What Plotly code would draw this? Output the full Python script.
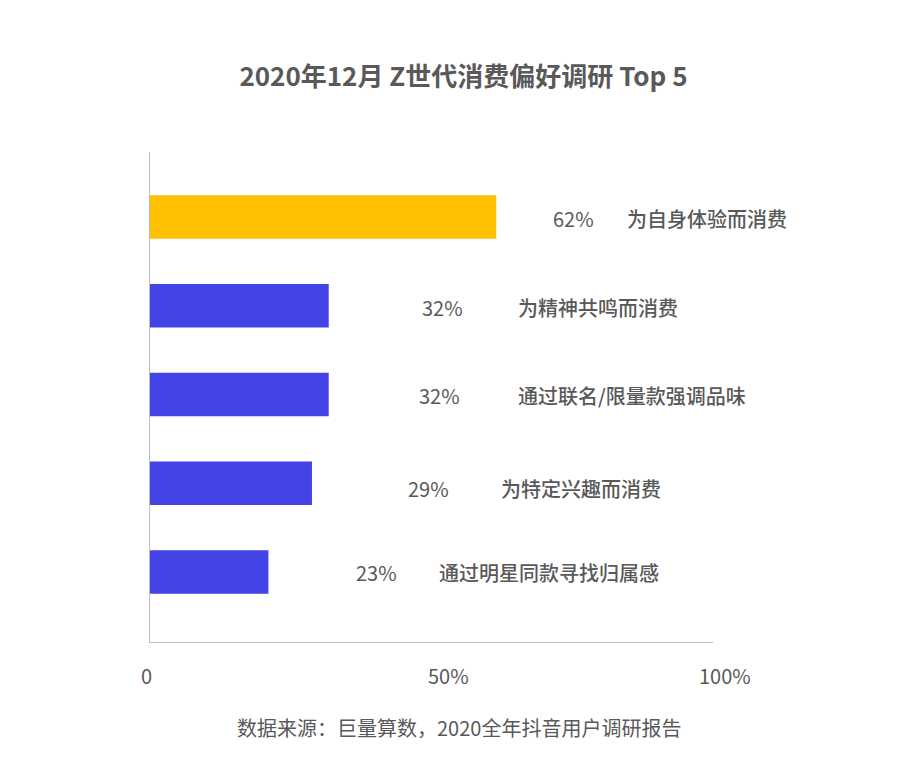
import plotly.graph_objects as go

categories = ["为自身体验而消费", "为精神共鸣而消费", "通过联名/限量款强调品味", "为特定兴趣而消费", "通过明星同款寻找归属感"]
values = [62, 32, 32, 29, 21.2]          # bar lengths as drawn (%)
value_labels = ["62%", "32%", "32%", "29%", "23%"]
colors = ["#FFC000", "#4343E6", "#4343E6", "#4343E6", "#4343E6"]
tick_vals = [0, 50, 100]
tick_text = ["0", "50%", "100%"]

title = "2020年12月 Z世代消费偏好调研 Top 5"
source = "数据来源：巨量算数，2020全年抖音用户调研报告"

FONT = "Noto Sans CJK SC"
GRAY = "#595959"

rows = list(range(len(categories)))

fig = go.Figure(go.Bar(
    x=values, y=rows, orientation="h", width=0.49,
    marker=dict(color=colors, line=dict(width=0)),
    hoverinfo="skip",
))

# label offsets (pixels) relative to bar ends
pct_dx = [55, 91, 88, 94, 86]
cat_dx = [129, 187, 187, 187, 169]
lab_dy = [-1, -2, -1, -5, -1]

ann = []
for i, r in enumerate(rows):
    ann.append(dict(x=values[i], y=r, xref="x", yref="y", text=value_labels[i],
                    xanchor="left", yanchor="middle", xshift=pct_dx[i], yshift=lab_dy[i],
                    showarrow=False, font=dict(family=FONT, size=20, color=GRAY)))
    ann.append(dict(x=values[i], y=r, xref="x", yref="y", text=categories[i],
                    xanchor="left", yanchor="middle", xshift=cat_dx[i], yshift=lab_dy[i],
                    showarrow=False, font=dict(family=FONT, size=20, color=GRAY, weight=500)))

tick_dx = [-4, 19, 16]
for v, t, dx in zip(tick_vals, tick_text, tick_dx):
    ann.append(dict(x=v, y=0, xref="x", yref="paper", text=t, xanchor="center",
                    yanchor="middle", yshift=-33, xshift=dx, showarrow=False,
                    font=dict(family=FONT, size=20, color=GRAY)))

ann.append(dict(x=0.548, y=-0.1755, xref="paper", yref="paper", text=source,
                xanchor="center", yanchor="middle", showarrow=False,
                font=dict(family=FONT, size=20, color=GRAY)))

fig.update_layout(
    width=900, height=779,
    margin=dict(l=150, r=187, t=152, b=137),
    paper_bgcolor="white", plot_bgcolor="white",
    showlegend=False,
    title=dict(text="<b>" + title + "</b>", x=0.515, xref="container", xanchor="center",
               y=1 - 77 / 779, yref="container", yanchor="middle",
               font=dict(family=FONT, size=26, color=GRAY)),
    xaxis=dict(range=[0, 100.8], showgrid=False, zeroline=False, showticklabels=False,
               ticks="", showline=True, linecolor="#BFBFBF", linewidth=1, fixedrange=True),
    yaxis=dict(range=[4.79, -0.733], showgrid=False, zeroline=False, showticklabels=False,
               ticks="", showline=True, linecolor="#BFBFBF", linewidth=1, fixedrange=True),
    annotations=ann,
)

fig.write_html("out.html")
